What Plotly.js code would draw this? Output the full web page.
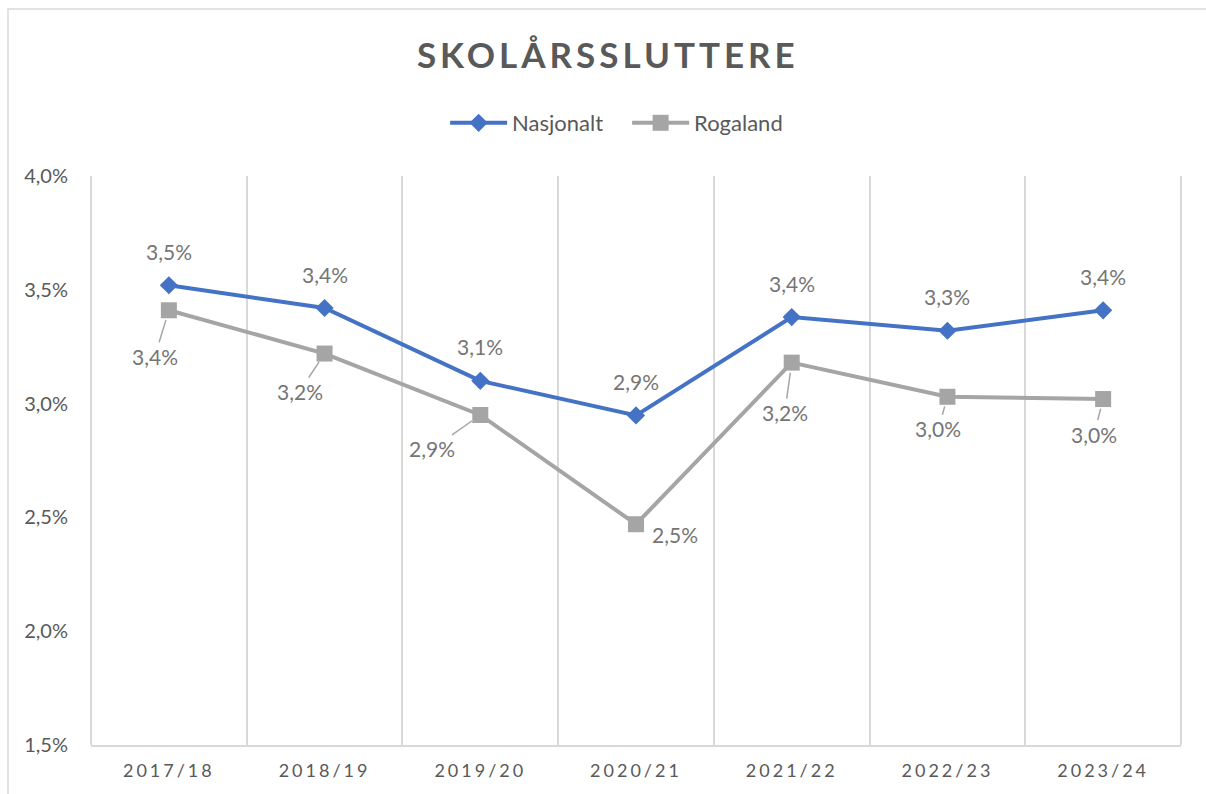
<!DOCTYPE html>
<html>
<head>
<meta charset="utf-8">
<script src="https://cdn.plot.ly/plotly-3.0.1.min.js"></script>
<style>
  html, body { margin: 0; padding: 0; background: #fff; }
  #chart { width: 1206px; height: 794px; }
  .gtitle { letter-spacing: 4px; }
  .xtick text { letter-spacing: 3px; }
</style>
</head>
<body>
<div id="chart"></div>
<script>
// ---- data ----
const categories = ["2017/18", "2018/19", "2019/20", "2020/21", "2021/22", "2022/23", "2023/24"];
const nasjonalt = [0.0352, 0.0342, 0.0310, 0.02948, 0.0338, 0.0332, 0.0341];
const rogaland  = [0.0341, 0.0322, 0.0295, 0.0247, 0.0318, 0.0303, 0.0302];
const seriesNames = ["Nasjonalt", "Rogaland"];
const chartTitle = "SKOLÅRSSLUTTERE";

// ---- styling / label placement (pixels) ----
const nasLabelShift = 34;
const rogLabelOffsets = [[-14, 46], [-25, 38], [-48, 34], [39, 10], [-7, 50], [-9, 32], [-9, 35]];
const rogLeader = [true, true, true, false, true, true, true];

const fmt = v => (v * 100).toFixed(1).replace('.', ',') + '%';
const FONT = "Lato, 'Open Sans', sans-serif";
const labelFont = { family: FONT, size: 21, color: '#757575' };

const traces = [
  {
    x: categories, y: nasjonalt, name: seriesNames[0], type: 'scatter', mode: 'lines+markers',
    line: { color: '#4472C4', width: 4 },
    marker: { symbol: 'diamond', size: 14, color: '#4472C4' },
    hoverinfo: 'skip'
  },
  {
    x: categories, y: rogaland, name: seriesNames[1], type: 'scatter', mode: 'lines+markers',
    line: { color: '#A5A5A5', width: 4 },
    marker: { symbol: 'square', size: 16, color: '#A5A5A5' },
    hoverinfo: 'skip'
  }
];

const annotations = [];
categories.forEach((c, i) => {
  annotations.push({
    x: c, y: nasjonalt[i], xref: 'x', yref: 'y', text: fmt(nasjonalt[i]),
    showarrow: false, yshift: nasLabelShift, font: labelFont
  });
  const off = rogLabelOffsets[i];
  if (rogLeader[i]) {
    annotations.push({
      x: c, y: rogaland[i], xref: 'x', yref: 'y', text: fmt(rogaland[i]),
      showarrow: true, arrowhead: 0, arrowwidth: 1.5, arrowcolor: '#A6A6A6',
      ax: off[0], ay: off[1], standoff: 10, font: labelFont
    });
  } else {
    annotations.push({
      x: c, y: rogaland[i], xref: 'x', yref: 'y', text: fmt(rogaland[i]),
      showarrow: false, xshift: off[0], yshift: -off[1], font: labelFont
    });
  }
});

const gridCol = '#D9D9D9';
const layout = {
  width: 1206, height: 794,
  paper_bgcolor: '#ffffff', plot_bgcolor: '#ffffff',
  separators: ', ',
  font: { family: FONT, color: '#595959' },
  margin: { l: 91, r: 25, t: 176, b: 49, pad: 0 },
  title: {
    text: '<b>' + chartTitle + '</b>',
    font: { family: FONT, size: 35, color: '#595959' },
    x: 0.504, xref: 'container', xanchor: 'center',
    y: 1 - 56 / 794, yref: 'container', yanchor: 'middle'
  },
  showlegend: true,
  legend: {
    orientation: 'h', x: 0.52, xref: 'container', xanchor: 'center',
    y: 1 - 123 / 794, yref: 'container', yanchor: 'middle',
    font: { family: FONT, size: 22, color: '#595959' },
    itemwidth: 57, entrywidth: 110, entrywidthmode: 'pixels', bgcolor: 'rgba(0,0,0,0)'
  },
  xaxis: {
    type: 'category', range: [-0.5, categories.length - 0.5],
    tickson: 'boundaries', showgrid: true, gridcolor: gridCol, gridwidth: 2,
    showline: true, linecolor: gridCol, linewidth: 2,
    ticks: '', ticklabelstandoff: 8,
    tickfont: { family: FONT, size: 18, color: '#595959' },
    fixedrange: true
  },
  yaxis: {
    range: [0.015, 0.04], dtick: 0.005, tick0: 0.015, tickformat: '.1%',
    showgrid: false, zeroline: false, showline: false, ticks: '',
    ticklabelstandoff: 22,
    tickfont: { family: FONT, size: 20, color: '#595959' },
    fixedrange: true
  },
  annotations: annotations,
  shapes: [
    { type: 'rect', xref: 'paper', yref: 'paper',
      x0: (8 - 91) / 1090, x1: (1215 - 91) / 1090,
      y0: (745 - 805) / 569, y1: (745 - 9) / 569,
      line: { color: gridCol, width: 1.5 }, fillcolor: 'rgba(0,0,0,0)', layer: 'below' },
    { type: 'line', xref: 'paper', yref: 'paper', x0: 0, x1: 0, y0: 0, y1: 1,
      line: { color: gridCol, width: 2 }, layer: 'below' },
    { type: 'line', xref: 'paper', yref: 'paper', x0: 1, x1: 1, y0: 0, y1: 1,
      line: { color: gridCol, width: 2 }, layer: 'below' }
  ]
};

Plotly.newPlot('chart', traces, layout, { displayModeBar: false, staticPlot: true });
</script>
</body>
</html>
